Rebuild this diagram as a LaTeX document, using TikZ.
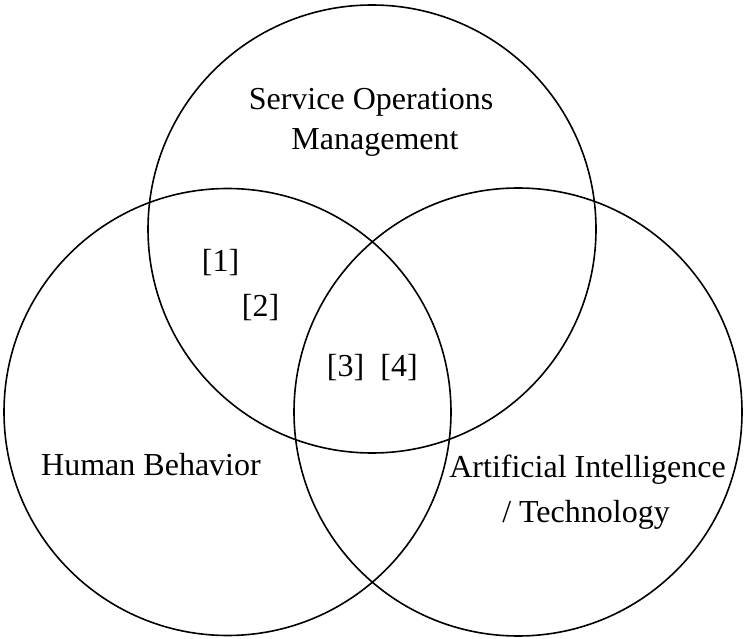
\documentclass[tikz,border=0pt]{standalone}
\usepackage{fontspec}
\setmainfont{Liberation Serif}
\begin{document}
\begin{tikzpicture}[x=1pt,y=-1pt,
  venn/.style={draw=black,line width=1.6pt},
  lbl/.style={font=\fontsize{32}{40}\selectfont,anchor=base,inner sep=0pt,align=center},
  cite/.style={font=\fontsize{32}{40}\selectfont,anchor=base,inner sep=0pt}]
\useasboundingbox (0,0) rectangle (745,639);
\draw[venn] (372,229) circle[radius=224];
\draw[venn] (227.5,412) circle[radius=223.5];
\draw[venn] (518,412) circle[radius=224];
\node[lbl] (som1) at (371,110) {Service Operations};
\node[lbl] (som2) at (375,150) {Management};
\node[lbl] (hb) at (151,475) {Human Behavior};
\node[lbl] (ai1) at (587.5,477) {Artificial Intelligence};
\node[lbl] (ai2) at (586,522) {/ Technology};
\node[cite] (c1) at (220.5,272) {[1]};
\node[cite] (c2) at (260.5,317) {[2]};
\node[cite] (c3) at (345.5,377) {[3]};
\node[cite] (c4) at (399,377) {[4]};
\end{tikzpicture}
\end{document}
